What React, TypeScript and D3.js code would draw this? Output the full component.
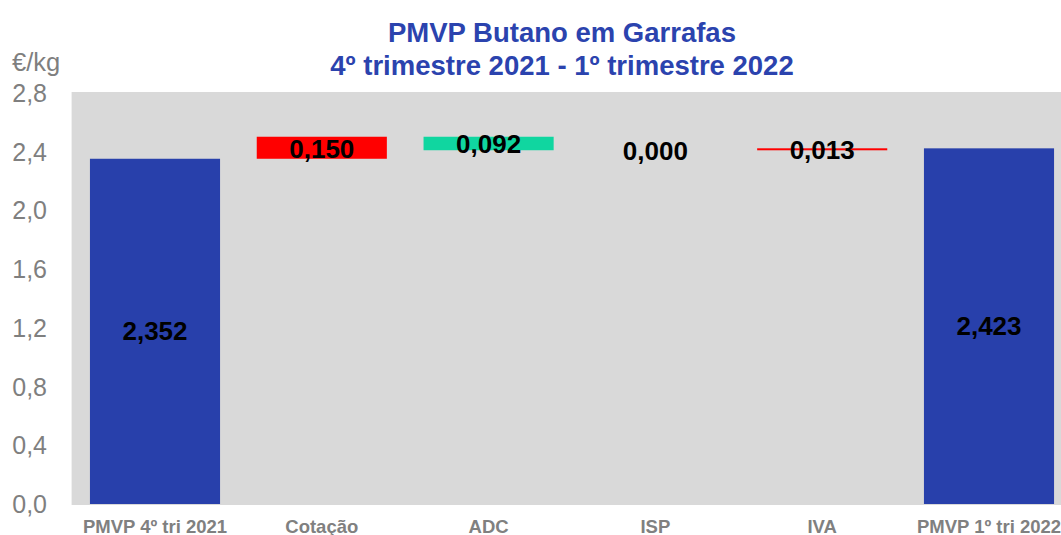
import React from "react";
import * as d3 from "d3";

const categories = ["PMVP 4º tri 2021", "Cotação", "ADC", "ISP", "IVA", "PMVP 1º tri 2022"];
const deltas = [2.352, 0.15, -0.092, 0.0, 0.013, 2.423];
const kinds = ["total", "delta", "delta", "delta", "delta", "total"];
const labels = ["2,352", "0,150", "0,092", "0,000", "0,013", "2,423"];
const yTicks = [0, 0.4, 0.8, 1.2, 1.6, 2.0, 2.4, 2.8];
const titleLines = ["PMVP Butano em Garrafas", "4º trimestre 2021 - 1º trimestre 2022"];
const unitLabel = "€/kg";

const W = 1061;
const H = 535;
const FONT = "'Liberation Sans', Arial, sans-serif";
const BLUE = "#2840AB";
const RED = "#FF0000";
const GREEN = "#10D6A0";

export default function App() {
  const plotLeft = 71.6;
  const plotRight = plotLeft + 166.8 * 6;
  const y = d3.scaleLinear().domain([0, 2.8]).range([504, 93]);
  const x = d3.scaleBand<string>().domain(categories).range([plotLeft, plotRight]).paddingInner(0.22).paddingOuter(0.11);

  let running = 0;
  const bars = categories.map((c, i) => {
    let lo: number, hi: number;
    if (kinds[i] === "total") {
      lo = 0;
      hi = deltas[i];
      running = deltas[i];
    } else {
      const start = running;
      const end = running + deltas[i];
      lo = Math.min(start, end);
      hi = Math.max(start, end);
      running = end;
    }
    let color = BLUE;
    if (kinds[i] === "delta") color = deltas[i] >= 0 ? RED : GREEN;
    return { c, lo, hi, color, label: labels[i], kind: kinds[i], d: deltas[i] };
  });

  const fmt = (v: number) => d3.format(".1f")(v).replace(".", ",");

  return (
    <svg width={W} height={H} style={{ position: "absolute", left: 0, top: 0, background: "#fff" }}>
      <rect x={plotLeft} y={92} width={plotRight - plotLeft} height={505 - 92} fill="#D9D9D9" />
      {bars.map((b, i) => {
        const bx = x(b.c)!;
        const bw = x.bandwidth();
        const top = y(b.hi);
        const bottom = y(b.lo);
        const h = Math.max(bottom - top, b.d === 0 ? 0 : 2);
        const isIva = b.kind === "delta" && Math.abs(b.d) < 0.05 && b.d !== 0;
        const ly = b.kind === "delta" ? (top + bottom) / 2 + 1 : (top + bottom) / 2;
        return (
          <g key={i}>
            {b.d !== 0 && (
              <rect x={bx} y={isIva ? (top + bottom) / 2 - 1 : top} width={bw} height={isIva ? 2 : h} fill={b.color} />
            )}
            <text
              x={bx + bw / 2}
              y={ly}
              textAnchor="middle"
              dominantBaseline="central"
              fontFamily={FONT}
              fontWeight="bold"
              fontSize={26}
              fill="#000"
            >
              {b.label}
            </text>
            <text
              x={bx + bw / 2}
              y={526}
              textAnchor="middle"
              dominantBaseline="central"
              fontFamily={FONT}
              fontWeight="bold"
              fontSize={18.5}
              fill="#808080"
            >
              {b.c}
            </text>
          </g>
        );
      })}
      {yTicks.map((t) => (
        <text
          key={t}
          x={47}
          y={y(t)}
          textAnchor="end"
          dominantBaseline="central"
          fontFamily={FONT}
          fontSize={25}
          fill="#7F7F7F"
        >
          {fmt(t)}
        </text>
      ))}
      <text x={12} y={62} dominantBaseline="central" fontFamily={FONT} fontSize={25.5} fill="#7F7F7F">
        {unitLabel}
      </text>
      {titleLines.map((t, i) => (
        <text
          key={i}
          x={562}
          y={42 + i * 33}
          textAnchor="middle"
          fontFamily={FONT}
          fontWeight="bold"
          fontSize={27.5}
          fill="#2B43AE"
        >
          {t}
        </text>
      ))}
    </svg>
  );
}
